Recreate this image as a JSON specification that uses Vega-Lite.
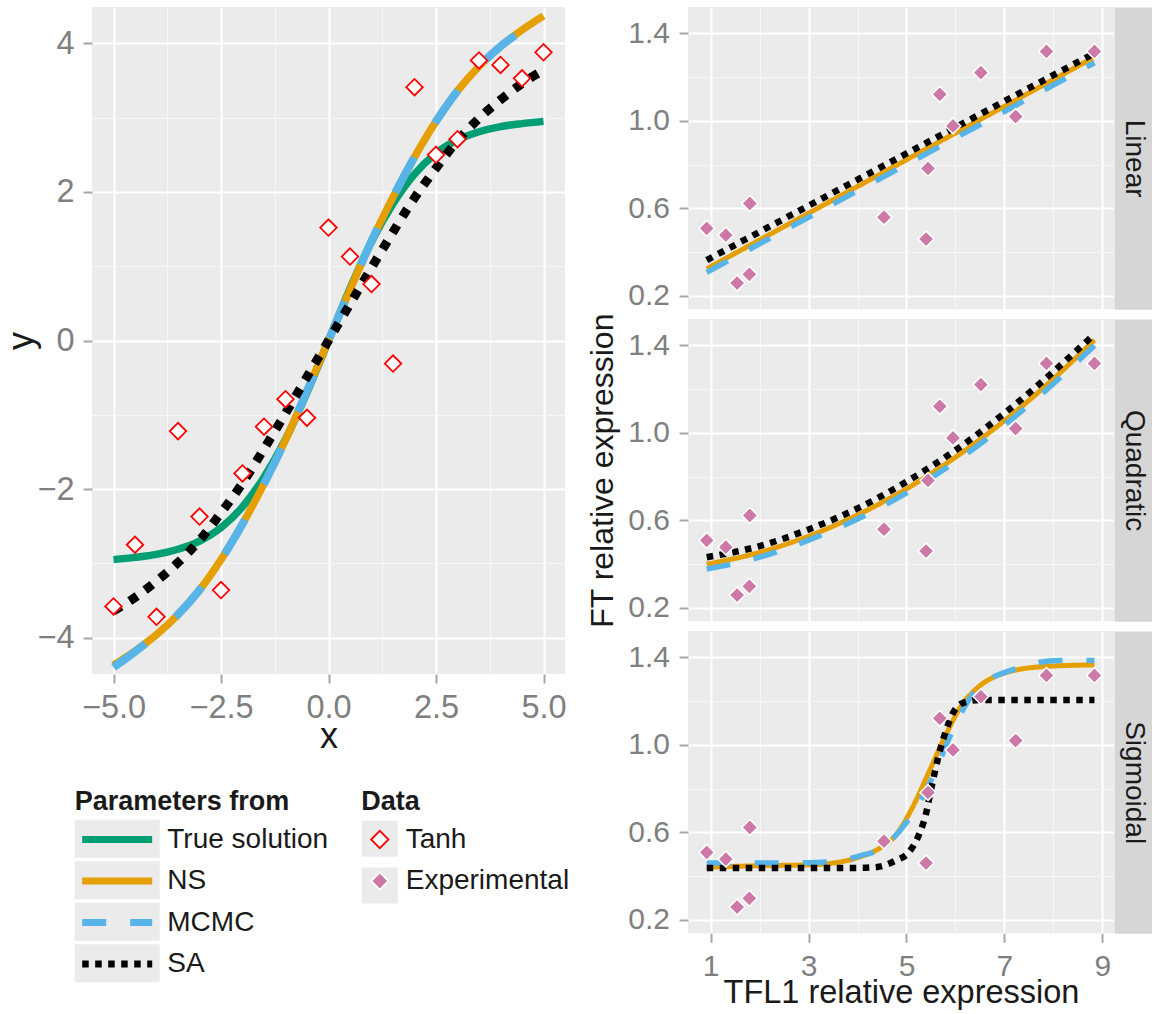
{
  "$schema": "https://vega.github.io/schema/vega-lite/v6.json",
  "padding": {"left": 3, "top": 0, "right": 5, "bottom": 4},
  "background": "#FFFFFF",
  "datasets": {
    "tanh_obs": [
      {"x": -5, "y": -3.58, "dataset": "Tanh"}, {"x": -4.5, "y": -2.75, "dataset": "Tanh"},
      {"x": -4, "y": -3.72, "dataset": "Tanh"}, {"x": -3.5, "y": -1.22, "dataset": "Tanh"},
      {"x": -3, "y": -2.37, "dataset": "Tanh"}, {"x": -2.5, "y": -3.36, "dataset": "Tanh"},
      {"x": -2, "y": -1.79, "dataset": "Tanh"}, {"x": -1.5, "y": -1.16, "dataset": "Tanh"},
      {"x": -1, "y": -0.79, "dataset": "Tanh"}, {"x": -0.5, "y": -1.04, "dataset": "Tanh"},
      {"x": 0, "y": 1.52, "dataset": "Tanh"}, {"x": 0.5, "y": 1.13, "dataset": "Tanh"},
      {"x": 1, "y": 0.76, "dataset": "Tanh"}, {"x": 1.5, "y": -0.31, "dataset": "Tanh"},
      {"x": 2, "y": 3.41, "dataset": "Tanh"}, {"x": 2.5, "y": 2.5, "dataset": "Tanh"},
      {"x": 3, "y": 2.71, "dataset": "Tanh"}, {"x": 3.5, "y": 3.77, "dataset": "Tanh"},
      {"x": 4, "y": 3.71, "dataset": "Tanh"}, {"x": 4.5, "y": 3.53, "dataset": "Tanh"},
      {"x": 5, "y": 3.88, "dataset": "Tanh"}
    ],
    "tanh_fit": [
      {"method": "True solution", "x": -5, "y": -2.95}, {"method": "True solution", "x": -4.5, "y": -2.92},
      {"method": "True solution", "x": -4, "y": -2.88}, {"method": "True solution", "x": -3.5, "y": -2.81},
      {"method": "True solution", "x": -3, "y": -2.7}, {"method": "True solution", "x": -2.5, "y": -2.52},
      {"method": "True solution", "x": -2, "y": -2.24}, {"method": "True solution", "x": -1.5, "y": -1.84},
      {"method": "True solution", "x": -1, "y": -1.33}, {"method": "True solution", "x": -0.5, "y": -0.7},
      {"method": "True solution", "x": 0, "y": 0}, {"method": "True solution", "x": 0.5, "y": 0.7},
      {"method": "True solution", "x": 1, "y": 1.33}, {"method": "True solution", "x": 1.5, "y": 1.84},
      {"method": "True solution", "x": 2, "y": 2.24}, {"method": "True solution", "x": 2.5, "y": 2.52},
      {"method": "True solution", "x": 3, "y": 2.7}, {"method": "True solution", "x": 3.5, "y": 2.81},
      {"method": "True solution", "x": 4, "y": 2.88}, {"method": "True solution", "x": 4.5, "y": 2.92},
      {"method": "True solution", "x": 5, "y": 2.95},
      {"method": "NS", "x": -5, "y": -4.37}, {"method": "NS", "x": -4.5, "y": -4.18},
      {"method": "NS", "x": -4, "y": -3.96}, {"method": "NS", "x": -3.5, "y": -3.69},
      {"method": "NS", "x": -3, "y": -3.36}, {"method": "NS", "x": -2.5, "y": -2.95},
      {"method": "NS", "x": -2, "y": -2.47}, {"method": "NS", "x": -1.5, "y": -1.93},
      {"method": "NS", "x": -1, "y": -1.34}, {"method": "NS", "x": -0.5, "y": -0.68},
      {"method": "NS", "x": 0, "y": 0}, {"method": "NS", "x": 0.5, "y": 0.68},
      {"method": "NS", "x": 1, "y": 1.34}, {"method": "NS", "x": 1.5, "y": 1.93},
      {"method": "NS", "x": 2, "y": 2.47}, {"method": "NS", "x": 2.5, "y": 2.95},
      {"method": "NS", "x": 3, "y": 3.36}, {"method": "NS", "x": 3.5, "y": 3.69},
      {"method": "NS", "x": 4, "y": 3.96}, {"method": "NS", "x": 4.5, "y": 4.18},
      {"method": "NS", "x": 5, "y": 4.37},
      {"method": "MCMC", "x": -5, "y": -4.4}, {"method": "MCMC", "x": -4.5, "y": -4.19},
      {"method": "MCMC", "x": -4, "y": -3.96}, {"method": "MCMC", "x": -3.5, "y": -3.69},
      {"method": "MCMC", "x": -3, "y": -3.36}, {"method": "MCMC", "x": -2.5, "y": -2.95},
      {"method": "MCMC", "x": -2, "y": -2.47}, {"method": "MCMC", "x": -1.5, "y": -1.93},
      {"method": "MCMC", "x": -1, "y": -1.34}, {"method": "MCMC", "x": -0.5, "y": -0.68},
      {"method": "MCMC", "x": 0, "y": 0}, {"method": "MCMC", "x": 0.5, "y": 0.68},
      {"method": "MCMC", "x": 1, "y": 1.34}, {"method": "MCMC", "x": 1.5, "y": 1.93},
      {"method": "MCMC", "x": 2, "y": 2.47}, {"method": "MCMC", "x": 2.5, "y": 2.95},
      {"method": "MCMC", "x": 3, "y": 3.36}, {"method": "MCMC", "x": 3.5, "y": 3.69},
      {"method": "MCMC", "x": 4, "y": 3.96}, {"method": "MCMC", "x": 4.5, "y": 4.17},
      {"method": "MCMC", "x": 5, "y": 4.36},
      {"method": "SA", "x": -5, "y": -3.64}, {"method": "SA", "x": -4.5, "y": -3.46},
      {"method": "SA", "x": -4, "y": -3.24}, {"method": "SA", "x": -3.5, "y": -2.99},
      {"method": "SA", "x": -3, "y": -2.69}, {"method": "SA", "x": -2.5, "y": -2.32},
      {"method": "SA", "x": -2, "y": -1.92}, {"method": "SA", "x": -1.5, "y": -1.46},
      {"method": "SA", "x": -1, "y": -0.98}, {"method": "SA", "x": -0.5, "y": -0.49},
      {"method": "SA", "x": 0, "y": 0}, {"method": "SA", "x": 0.5, "y": 0.49},
      {"method": "SA", "x": 1, "y": 0.98}, {"method": "SA", "x": 1.5, "y": 1.46},
      {"method": "SA", "x": 2, "y": 1.92}, {"method": "SA", "x": 2.5, "y": 2.32},
      {"method": "SA", "x": 3, "y": 2.69}, {"method": "SA", "x": 3.5, "y": 2.99},
      {"method": "SA", "x": 4, "y": 3.24}, {"method": "SA", "x": 4.5, "y": 3.46},
      {"method": "SA", "x": 5, "y": 3.64}
    ],
    "ft_obs": [
      {"x": 0.92, "y": 0.509, "dataset": "Experimental"}, {"x": 1.31, "y": 0.478, "dataset": "Experimental"},
      {"x": 1.54, "y": 0.259, "dataset": "Experimental"}, {"x": 1.79, "y": 0.299, "dataset": "Experimental"},
      {"x": 1.8, "y": 0.623, "dataset": "Experimental"}, {"x": 4.54, "y": 0.56, "dataset": "Experimental"},
      {"x": 5.4, "y": 0.46, "dataset": "Experimental"}, {"x": 5.44, "y": 0.783, "dataset": "Experimental"},
      {"x": 5.68, "y": 1.122, "dataset": "Experimental"}, {"x": 5.95, "y": 0.977, "dataset": "Experimental"},
      {"x": 6.52, "y": 1.221, "dataset": "Experimental"}, {"x": 7.23, "y": 1.02, "dataset": "Experimental"},
      {"x": 7.86, "y": 1.318, "dataset": "Experimental"}, {"x": 8.84, "y": 1.318, "dataset": "Experimental"}
    ],
    "ft_fit": [
      {"model": "Linear", "method": "NS", "x": 0.92, "y": 0.324}, {"model": "Linear", "method": "NS", "x": 8.84, "y": 1.292},
      {"model": "Linear", "method": "MCMC", "x": 0.92, "y": 0.308}, {"model": "Linear", "method": "MCMC", "x": 8.84, "y": 1.266},
      {"model": "Linear", "method": "SA", "x": 0.92, "y": 0.364}, {"model": "Linear", "method": "SA", "x": 8.84, "y": 1.31},
      {"model": "Quadratic", "method": "NS", "x": 0.92, "y": 0.4}, {"model": "Quadratic", "method": "NS", "x": 2, "y": 0.454},
      {"model": "Quadratic", "method": "NS", "x": 3, "y": 0.528}, {"model": "Quadratic", "method": "NS", "x": 4, "y": 0.625},
      {"model": "Quadratic", "method": "NS", "x": 5, "y": 0.745}, {"model": "Quadratic", "method": "NS", "x": 6, "y": 0.889},
      {"model": "Quadratic", "method": "NS", "x": 7, "y": 1.056}, {"model": "Quadratic", "method": "NS", "x": 8, "y": 1.247},
      {"model": "Quadratic", "method": "NS", "x": 8.84, "y": 1.425},
      {"model": "Quadratic", "method": "MCMC", "x": 0.92, "y": 0.378}, {"model": "Quadratic", "method": "MCMC", "x": 2, "y": 0.432},
      {"model": "Quadratic", "method": "MCMC", "x": 3, "y": 0.51}, {"model": "Quadratic", "method": "MCMC", "x": 4, "y": 0.607},
      {"model": "Quadratic", "method": "MCMC", "x": 5, "y": 0.726}, {"model": "Quadratic", "method": "MCMC", "x": 6, "y": 0.869},
      {"model": "Quadratic", "method": "MCMC", "x": 7, "y": 1.036}, {"model": "Quadratic", "method": "MCMC", "x": 8, "y": 1.225},
      {"model": "Quadratic", "method": "MCMC", "x": 8.84, "y": 1.4},
      {"model": "Quadratic", "method": "SA", "x": 0.92, "y": 0.432}, {"model": "Quadratic", "method": "SA", "x": 2, "y": 0.483},
      {"model": "Quadratic", "method": "SA", "x": 3, "y": 0.559}, {"model": "Quadratic", "method": "SA", "x": 4, "y": 0.655},
      {"model": "Quadratic", "method": "SA", "x": 5, "y": 0.777}, {"model": "Quadratic", "method": "SA", "x": 6, "y": 0.921},
      {"model": "Quadratic", "method": "SA", "x": 7, "y": 1.09}, {"model": "Quadratic", "method": "SA", "x": 8, "y": 1.28},
      {"model": "Quadratic", "method": "SA", "x": 8.84, "y": 1.452},
      {"model": "Sigmoidal", "method": "NS", "x": 0.92, "y": 0.441}, {"model": "Sigmoidal", "method": "NS", "x": 2, "y": 0.448},
      {"model": "Sigmoidal", "method": "NS", "x": 3, "y": 0.452}, {"model": "Sigmoidal", "method": "NS", "x": 3.5, "y": 0.46},
      {"model": "Sigmoidal", "method": "NS", "x": 4.03, "y": 0.487}, {"model": "Sigmoidal", "method": "NS", "x": 4.43, "y": 0.525},
      {"model": "Sigmoidal", "method": "NS", "x": 4.78, "y": 0.587}, {"model": "Sigmoidal", "method": "NS", "x": 5.11, "y": 0.709},
      {"model": "Sigmoidal", "method": "NS", "x": 5.46, "y": 0.877}, {"model": "Sigmoidal", "method": "NS", "x": 5.8, "y": 1.045},
      {"model": "Sigmoidal", "method": "NS", "x": 6.13, "y": 1.183}, {"model": "Sigmoidal", "method": "NS", "x": 6.48, "y": 1.267},
      {"model": "Sigmoidal", "method": "NS", "x": 6.99, "y": 1.328}, {"model": "Sigmoidal", "method": "NS", "x": 7.84, "y": 1.359},
      {"model": "Sigmoidal", "method": "NS", "x": 8.84, "y": 1.366},
      {"model": "Sigmoidal", "method": "MCMC", "x": 0.92, "y": 0.46}, {"model": "Sigmoidal", "method": "MCMC", "x": 2, "y": 0.46},
      {"model": "Sigmoidal", "method": "MCMC", "x": 3, "y": 0.462}, {"model": "Sigmoidal", "method": "MCMC", "x": 3.5, "y": 0.468},
      {"model": "Sigmoidal", "method": "MCMC", "x": 4.03, "y": 0.492}, {"model": "Sigmoidal", "method": "MCMC", "x": 4.5, "y": 0.53},
      {"model": "Sigmoidal", "method": "MCMC", "x": 4.98, "y": 0.64}, {"model": "Sigmoidal", "method": "MCMC", "x": 5.52, "y": 0.846},
      {"model": "Sigmoidal", "method": "MCMC", "x": 5.9, "y": 1.045}, {"model": "Sigmoidal", "method": "MCMC", "x": 6.27, "y": 1.206},
      {"model": "Sigmoidal", "method": "MCMC", "x": 6.7, "y": 1.3}, {"model": "Sigmoidal", "method": "MCMC", "x": 7.16, "y": 1.343},
      {"model": "Sigmoidal", "method": "MCMC", "x": 8.11, "y": 1.386}, {"model": "Sigmoidal", "method": "MCMC", "x": 8.84, "y": 1.386},
      {"model": "Sigmoidal", "method": "SA", "x": 0.92, "y": 0.437}, {"model": "Sigmoidal", "method": "SA", "x": 2, "y": 0.437},
      {"model": "Sigmoidal", "method": "SA", "x": 3, "y": 0.437}, {"model": "Sigmoidal", "method": "SA", "x": 4, "y": 0.438},
      {"model": "Sigmoidal", "method": "SA", "x": 4.4, "y": 0.442}, {"model": "Sigmoidal", "method": "SA", "x": 4.78, "y": 0.472},
      {"model": "Sigmoidal", "method": "SA", "x": 5.05, "y": 0.51}, {"model": "Sigmoidal", "method": "SA", "x": 5.25, "y": 0.587},
      {"model": "Sigmoidal", "method": "SA", "x": 5.39, "y": 0.678}, {"model": "Sigmoidal", "method": "SA", "x": 5.52, "y": 0.816},
      {"model": "Sigmoidal", "method": "SA", "x": 5.66, "y": 0.954}, {"model": "Sigmoidal", "method": "SA", "x": 5.8, "y": 1.061},
      {"model": "Sigmoidal", "method": "SA", "x": 5.93, "y": 1.137}, {"model": "Sigmoidal", "method": "SA", "x": 6.13, "y": 1.19},
      {"model": "Sigmoidal", "method": "SA", "x": 6.48, "y": 1.206}, {"model": "Sigmoidal", "method": "SA", "x": 7, "y": 1.206},
      {"model": "Sigmoidal", "method": "SA", "x": 8, "y": 1.206}, {"model": "Sigmoidal", "method": "SA", "x": 8.84, "y": 1.206}
    ]
  },
  "hconcat": [
    {
      "width": 473,
      "height": 667,
      "resolve": {"axis": {"x": "independent", "y": "independent"}},
      "layer": [
        {
          "data": {"name": "tanh_fit"},
          "transform": [{"filter": "datum.method === 'True solution'"}],
          "mark": {"type": "line", "strokeWidth": 7.5, "interpolate": "monotone", "strokeCap": "butt"},
          "encoding": {
            "x": {"field": "x", "type": "quantitative", "scale": {"domain": [-5.5, 5.5], "nice": false, "zero": false},
                  "axis": {"orient": "bottom", "values": [-3.75, -1.25, 1.25, 3.75], "grid": true, "gridWidth": 1, "gridColor": "#F7F7F7", "labels": false, "ticks": false, "domain": false, "title": null}},
            "y": {"field": "y", "type": "quantitative", "scale": {"domain": [-4.49, 4.49], "nice": false, "zero": false},
                  "axis": {"orient": "left", "values": [-3, -1, 1, 3], "grid": true, "gridWidth": 1, "gridColor": "#F7F7F7", "labels": false, "ticks": false, "domain": false, "title": null}},
            "color": {
              "field": "method", "type": "nominal",
              "scale": {"domain": ["True solution", "NS", "MCMC", "SA"], "range": ["#009E73", "#E69F00", "#56B4E9", "#000000"]},
              "legend": {
                "title": "Parameters from",
                "orient": "none", "legendX": -17.3, "legendY": 781.6, "direction": "vertical", "padding": 0, "zindex": 1,
                "titleFontSize": 27, "titleFontWeight": "bold", "titleColor": "#1A1A1A", "titlePadding": 9.9, "titleLimit": 400,
                "labelFontSize": 28, "labelColor": "#1A1A1A", "labelLimit": 400, "labelOffset": 36.1,
                "symbolType": "M-5,0H5", "symbolSize": 196, "symbolStrokeWidth": 7, "symbolOpacity": 1, "symbolOffset": 28.5,
                "rowPadding": 13.5
              }
            },
            "opacity": {
              "field": "method", "type": "nominal", "scale": {"range": [1, 1, 1, 1]},
              "legend": {
                "title": null,
                "orient": "none", "legendX": -17.3, "legendY": 812.8, "direction": "vertical", "padding": 0, "zindex": 0,
                "labelExpr": "''", "labelFontSize": 28, "labelColor": "transparent",
                "symbolType": "M-2.237,-1H2.237V1H-2.237Z", "symbolSize": 1444, "symbolFillColor": "#EBEBEB", "symbolStrokeColor": "transparent",
                "symbolStrokeWidth": 0, "symbolOffset": 23.5, "symbolOpacity": 1,
                "rowPadding": 3.5
              }
            }
          }
        },
        {
          "data": {"name": "tanh_fit"},
          "transform": [{"filter": "datum.method === 'NS'"}],
          "mark": {"type": "line", "strokeWidth": 7.5, "interpolate": "monotone", "strokeCap": "butt"},
          "encoding": {
            "x": {"field": "x", "type": "quantitative", "scale": {"domain": [-5.5, 5.5], "nice": false, "zero": false},
                  "axis": {"orient": "bottom", "values": [-5, -2.5, 0, 2.5, 5], "format": ".1f", "grid": true, "labelFontSize": 32.5, "labelPadding": 8,
                           "title": "x", "titleFontSize": 36, "titleBaseline": "alphabetic", "titleX": 236.5, "titleY": 73}},
            "y": {"field": "y", "type": "quantitative", "scale": {"domain": [-4.49, 4.49], "nice": false, "zero": false},
                  "axis": {"orient": "left", "values": [-4, -2, 0, 2, 4], "format": "d", "grid": true, "labelFontSize": 32.5, "labelPadding": 9,
                           "title": "y", "titleFontSize": 36, "titleAngle": -90, "titleBaseline": "alphabetic", "titleX": -60, "titleY": 333.5}},
            "color": {"field": "method", "type": "nominal", "scale": {"domain": ["True solution", "NS", "MCMC", "SA"], "range": ["#009E73", "#E69F00", "#56B4E9", "#000000"]}},
            "opacity": {"field": "method", "type": "nominal", "scale": {"range": [1, 1, 1, 1]}}
          }
        },
        {
          "data": {"name": "tanh_fit"},
          "transform": [{"filter": "datum.method === 'MCMC'"}],
          "mark": {"type": "line", "strokeWidth": 8, "interpolate": "monotone", "strokeCap": "butt", "strokeDash": [40, 40]},
          "encoding": {
            "x": {"field": "x", "type": "quantitative", "axis": null},
            "y": {"field": "y", "type": "quantitative", "axis": null},
            "color": {"field": "method", "type": "nominal", "scale": {"domain": ["True solution", "NS", "MCMC", "SA"], "range": ["#009E73", "#E69F00", "#56B4E9", "#000000"]}},
            "opacity": {"field": "method", "type": "nominal", "scale": {"range": [1, 1, 1, 1]}}
          }
        },
        {
          "data": {"name": "tanh_fit"},
          "transform": [{"filter": "datum.method === 'SA'"}],
          "mark": {"type": "line", "strokeWidth": 9, "interpolate": "monotone", "strokeCap": "butt", "strokeDash": [9, 10]},
          "encoding": {
            "x": {"field": "x", "type": "quantitative", "axis": null},
            "y": {"field": "y", "type": "quantitative", "axis": null},
            "color": {"field": "method", "type": "nominal", "scale": {"domain": ["True solution", "NS", "MCMC", "SA"], "range": ["#009E73", "#E69F00", "#56B4E9", "#000000"]}},
            "opacity": {"field": "method", "type": "nominal", "scale": {"range": [1, 1, 1, 1]}}
          }
        },
        {
          "data": {"name": "tanh_obs"},
          "mark": {"type": "point", "filled": true, "size": 272, "opacity": 1},
          "encoding": {
            "x": {"field": "x", "type": "quantitative", "axis": null},
            "y": {"field": "y", "type": "quantitative", "axis": null},
            "fill": {
              "field": "dataset", "type": "nominal",
              "scale": {"domain": ["Tanh", "Experimental"], "range": ["#FFFFFF", "#CC79A7"]},
              "legend": {
                "title": "Data", "orient": "none", "legendX": 269.3, "legendY": 781.6, "direction": "vertical", "padding": 0, "zindex": 1,
                "titleFontSize": 27, "titleFontWeight": "bold", "titleColor": "#1A1A1A", "titlePadding": 9.9,
                "labelFontSize": 28, "labelColor": "#1A1A1A", "labelLimit": 400, "labelOffset": 11.9,
                "symbolType": "diamond", "symbolSize": 300, "symbolStrokeWidth": 1.8, "symbolOpacity": 1, "symbolOffset": 4.5,
                "rowPadding": 13.5
              }
            },
            "stroke": {
              "field": "dataset", "type": "nominal",
              "scale": {"domain": ["Tanh", "Experimental"], "range": ["#FF0000", "#FFFFFF"]},
              "legend": {
                "title": "Data", "orient": "none", "legendX": 269.3, "legendY": 781.6, "direction": "vertical", "padding": 0, "zindex": 1,
                "titleFontSize": 27, "titleFontWeight": "bold", "titleColor": "#1A1A1A", "titlePadding": 9.9,
                "labelFontSize": 28, "labelColor": "#1A1A1A", "labelLimit": 400, "labelOffset": 11.9,
                "symbolType": "diamond", "symbolSize": 300, "symbolStrokeWidth": 1.8, "symbolOpacity": 1, "symbolOffset": 4.5,
                "rowPadding": 13.5
              }
            },
            "shape": {
              "field": "dataset", "type": "nominal",
              "scale": {"domain": ["Tanh", "Experimental"], "range": ["diamond", "diamond"]},
              "legend": {
                "title": "Data", "orient": "none", "legendX": 269.3, "legendY": 781.6, "direction": "vertical", "padding": 0, "zindex": 1,
                "titleFontSize": 27, "titleFontWeight": "bold", "titleColor": "#1A1A1A", "titlePadding": 9.9,
                "labelFontSize": 28, "labelColor": "#1A1A1A", "labelLimit": 400, "labelOffset": 11.9,
                "symbolType": "diamond", "symbolSize": 300, "symbolStrokeWidth": 1.8, "symbolOpacity": 1, "symbolOffset": 4.5,
                "rowPadding": 13.5
              }
            },
            "strokeWidth": {
              "field": "dataset", "type": "nominal", "scale": {"range": [1.5, 1.8]},
              "legend": {
                "title": null, "orient": "none", "legendX": 269.3, "legendY": 812.8, "direction": "vertical", "padding": 0, "zindex": 0,
                "labelExpr": "''", "labelFontSize": 28, "labelColor": "transparent",
                "symbolType": "square", "symbolSize": 1296, "symbolFillColor": "#EBEBEB", "symbolStrokeColor": "transparent",
                "symbolOffset": -0.5, "symbolOpacity": 1,
                "rowPadding": 3.6
              }
            }
          }
        }
      ]
    },
    {
      "spacing": 9,
      "bounds": "flush",
      "vconcat": [
        {
          "width": 426,
          "height": 302.3,
          "resolve": {"axis": {"x": "independent", "y": "independent"}},
          "layer": [
            {
              "data": {"name": "ft_fit"},
              "transform": [{"filter": "datum.model === 'Linear' && datum.method === 'NS'"}],
              "mark": {"type": "line", "strokeWidth": 5, "interpolate": "monotone", "strokeCap": "butt"},
              "encoding": {
                "x": {"field": "x", "type": "quantitative", "scale": {"domain": [0.537, 9.239], "nice": false, "zero": false},
                      "axis": {"orient": "bottom", "values": [2, 4, 6, 8], "grid": true, "gridWidth": 1, "gridColor": "#F7F7F7", "labels": false, "ticks": false, "domain": false, "title": null}},
                "y": {"field": "y", "type": "quantitative", "scale": {"domain": [0.139, 1.521], "nice": false, "zero": false},
                      "axis": {"orient": "left", "values": [0.4, 0.8, 1.2], "grid": true, "gridWidth": 1, "gridColor": "#F7F7F7", "labels": false, "ticks": false, "domain": false, "title": null}},
                "color": {"field": "method", "type": "nominal", "scale": {"domain": ["True solution", "NS", "MCMC", "SA"], "range": ["#009E73", "#E69F00", "#56B4E9", "#000000"]}},
                "strokeDash": {"field": "method", "type": "nominal", "scale": {"domain": ["True solution", "NS", "MCMC", "SA"], "range": [[1, 0], [1, 0], [24, 24], [6.5, 6.5]]}}
              }
            },
            {
              "data": {"name": "ft_fit"},
              "transform": [{"filter": "datum.model === 'Linear' && datum.method === 'MCMC'"}],
              "mark": {"type": "line", "strokeWidth": 5.5, "interpolate": "monotone", "strokeCap": "butt"},
              "encoding": {
                "x": {"field": "x", "type": "quantitative",
                      "axis": {"orient": "bottom", "values": [1, 3, 5, 7, 9], "grid": true, "labels": false, "ticks": false, "title": null}},
                "y": {"field": "y", "type": "quantitative",
                      "axis": {"orient": "left", "values": [0.2, 0.6, 1.0, 1.4], "format": ".1f", "grid": true, "labelFontSize": 30, "labelPadding": 9.5, "title": null}},
                "color": {"field": "method", "type": "nominal", "scale": {"domain": ["True solution", "NS", "MCMC", "SA"], "range": ["#009E73", "#E69F00", "#56B4E9", "#000000"]}},
                "strokeDash": {"field": "method", "type": "nominal", "scale": {"domain": ["True solution", "NS", "MCMC", "SA"], "range": [[1, 0], [1, 0], [24, 24], [6.5, 6.5]]}}
              }
            },
            {
              "data": {"name": "ft_fit"},
              "transform": [{"filter": "datum.model === 'Linear' && datum.method === 'SA'"}],
              "mark": {"type": "line", "strokeWidth": 6.5, "interpolate": "monotone", "strokeCap": "butt"},
              "encoding": {
                "x": {"field": "x", "type": "quantitative", "axis": null},
                "y": {"field": "y", "type": "quantitative",
                      "axis": {"orient": "right", "domain": true, "domainColor": "#D6D6D6", "domainWidth": 38, "offset": 19, "labels": false, "ticks": false, "grid": false,
                               "title": "Linear", "titleAngle": 90, "titleX": 0, "titleY": 151.15, "titleAlign": "center", "titleBaseline": "middle", "titleFontSize": 28}},
                "color": {"field": "method", "type": "nominal", "scale": {"domain": ["True solution", "NS", "MCMC", "SA"], "range": ["#009E73", "#E69F00", "#56B4E9", "#000000"]}},
                "strokeDash": {"field": "method", "type": "nominal", "scale": {"domain": ["True solution", "NS", "MCMC", "SA"], "range": [[1, 0], [1, 0], [24, 24], [6.5, 6.5]]}}
              }
            },
            {
              "data": {"name": "ft_obs"},
              "mark": {"type": "point", "filled": true, "size": 250, "opacity": 1},
              "encoding": {
                "x": {"field": "x", "type": "quantitative", "axis": null},
                "y": {"field": "y", "type": "quantitative", "axis": null},
                "fill": {"field": "dataset", "type": "nominal", "scale": {"domain": ["Tanh", "Experimental"], "range": ["#FFFFFF", "#CC79A7"]}},
                "stroke": {"field": "dataset", "type": "nominal", "scale": {"domain": ["Tanh", "Experimental"], "range": ["#FF0000", "#FFFFFF"]}},
                "shape": {"field": "dataset", "type": "nominal", "scale": {"domain": ["Tanh", "Experimental"], "range": ["diamond", "diamond"]}},
                "strokeWidth": {"field": "dataset", "type": "nominal", "scale": {"range": [1.5, 1.8]}}
              }
            }
          ]
        },
        {
          "width": 426,
          "height": 302.3,
          "resolve": {"axis": {"x": "independent", "y": "independent"}},
          "layer": [
            {
              "data": {"name": "ft_fit"},
              "transform": [{"filter": "datum.model === 'Quadratic' && datum.method === 'NS'"}],
              "mark": {"type": "line", "strokeWidth": 5, "interpolate": "monotone", "strokeCap": "butt"},
              "encoding": {
                "x": {"field": "x", "type": "quantitative", "scale": {"domain": [0.537, 9.239], "nice": false, "zero": false},
                      "axis": {"orient": "bottom", "values": [2, 4, 6, 8], "grid": true, "gridWidth": 1, "gridColor": "#F7F7F7", "labels": false, "ticks": false, "domain": false, "title": null}},
                "y": {"field": "y", "type": "quantitative", "scale": {"domain": [0.139, 1.521], "nice": false, "zero": false},
                      "axis": {"orient": "left", "values": [0.4, 0.8, 1.2], "grid": true, "gridWidth": 1, "gridColor": "#F7F7F7", "labels": false, "ticks": false, "domain": false, "title": null}},
                "color": {"field": "method", "type": "nominal", "scale": {"domain": ["True solution", "NS", "MCMC", "SA"], "range": ["#009E73", "#E69F00", "#56B4E9", "#000000"]}},
                "strokeDash": {"field": "method", "type": "nominal", "scale": {"domain": ["True solution", "NS", "MCMC", "SA"], "range": [[1, 0], [1, 0], [24, 24], [6.5, 6.5]]}}
              }
            },
            {
              "data": {"name": "ft_fit"},
              "transform": [{"filter": "datum.model === 'Quadratic' && datum.method === 'MCMC'"}],
              "mark": {"type": "line", "strokeWidth": 5.5, "interpolate": "monotone", "strokeCap": "butt"},
              "encoding": {
                "x": {"field": "x", "type": "quantitative",
                      "axis": {"orient": "bottom", "values": [1, 3, 5, 7, 9], "grid": true, "labels": false, "ticks": false, "title": null}},
                "y": {"field": "y", "type": "quantitative",
                      "axis": {"orient": "left", "values": [0.2, 0.6, 1.0, 1.4], "format": ".1f", "grid": true, "labelFontSize": 30, "labelPadding": 9.5,
                               "title": "FT relative expression", "titleFontSize": 32, "titleAngle": -90, "titleBaseline": "alphabetic", "titleX": -76, "titleY": 151.15}},
                "color": {"field": "method", "type": "nominal", "scale": {"domain": ["True solution", "NS", "MCMC", "SA"], "range": ["#009E73", "#E69F00", "#56B4E9", "#000000"]}},
                "strokeDash": {"field": "method", "type": "nominal", "scale": {"domain": ["True solution", "NS", "MCMC", "SA"], "range": [[1, 0], [1, 0], [24, 24], [6.5, 6.5]]}}
              }
            },
            {
              "data": {"name": "ft_fit"},
              "transform": [{"filter": "datum.model === 'Quadratic' && datum.method === 'SA'"}],
              "mark": {"type": "line", "strokeWidth": 6.5, "interpolate": "monotone", "strokeCap": "butt"},
              "encoding": {
                "x": {"field": "x", "type": "quantitative", "axis": null},
                "y": {"field": "y", "type": "quantitative",
                      "axis": {"orient": "right", "domain": true, "domainColor": "#D6D6D6", "domainWidth": 38, "offset": 19, "labels": false, "ticks": false, "grid": false,
                               "title": "Quadratic", "titleAngle": 90, "titleX": 0, "titleY": 151.15, "titleAlign": "center", "titleBaseline": "middle", "titleFontSize": 28}},
                "color": {"field": "method", "type": "nominal", "scale": {"domain": ["True solution", "NS", "MCMC", "SA"], "range": ["#009E73", "#E69F00", "#56B4E9", "#000000"]}},
                "strokeDash": {"field": "method", "type": "nominal", "scale": {"domain": ["True solution", "NS", "MCMC", "SA"], "range": [[1, 0], [1, 0], [24, 24], [6.5, 6.5]]}}
              }
            },
            {
              "data": {"name": "ft_obs"},
              "mark": {"type": "point", "filled": true, "size": 250, "opacity": 1},
              "encoding": {
                "x": {"field": "x", "type": "quantitative", "axis": null},
                "y": {"field": "y", "type": "quantitative", "axis": null},
                "fill": {"field": "dataset", "type": "nominal", "scale": {"domain": ["Tanh", "Experimental"], "range": ["#FFFFFF", "#CC79A7"]}},
                "stroke": {"field": "dataset", "type": "nominal", "scale": {"domain": ["Tanh", "Experimental"], "range": ["#FF0000", "#FFFFFF"]}},
                "shape": {"field": "dataset", "type": "nominal", "scale": {"domain": ["Tanh", "Experimental"], "range": ["diamond", "diamond"]}},
                "strokeWidth": {"field": "dataset", "type": "nominal", "scale": {"range": [1.5, 1.8]}}
              }
            }
          ]
        },
        {
          "width": 426,
          "height": 302.3,
          "resolve": {"axis": {"x": "independent", "y": "independent"}},
          "layer": [
            {
              "data": {"name": "ft_fit"},
              "transform": [{"filter": "datum.model === 'Sigmoidal' && datum.method === 'NS'"}],
              "mark": {"type": "line", "strokeWidth": 5, "interpolate": "monotone", "strokeCap": "butt"},
              "encoding": {
                "x": {"field": "x", "type": "quantitative", "scale": {"domain": [0.537, 9.239], "nice": false, "zero": false},
                      "axis": {"orient": "bottom", "values": [2, 4, 6, 8], "grid": true, "gridWidth": 1, "gridColor": "#F7F7F7", "labels": false, "ticks": false, "domain": false, "title": null}},
                "y": {"field": "y", "type": "quantitative", "scale": {"domain": [0.139, 1.521], "nice": false, "zero": false},
                      "axis": {"orient": "left", "values": [0.4, 0.8, 1.2], "grid": true, "gridWidth": 1, "gridColor": "#F7F7F7", "labels": false, "ticks": false, "domain": false, "title": null}},
                "color": {"field": "method", "type": "nominal", "scale": {"domain": ["True solution", "NS", "MCMC", "SA"], "range": ["#009E73", "#E69F00", "#56B4E9", "#000000"]}},
                "strokeDash": {"field": "method", "type": "nominal", "scale": {"domain": ["True solution", "NS", "MCMC", "SA"], "range": [[1, 0], [1, 0], [24, 24], [6.5, 6.5]]}}
              }
            },
            {
              "data": {"name": "ft_fit"},
              "transform": [{"filter": "datum.model === 'Sigmoidal' && datum.method === 'MCMC'"}],
              "mark": {"type": "line", "strokeWidth": 5.5, "interpolate": "monotone", "strokeCap": "butt"},
              "encoding": {
                "x": {"field": "x", "type": "quantitative",
                      "axis": {"orient": "bottom", "values": [1, 3, 5, 7, 9], "format": "d", "grid": true, "labelFontSize": 30, "labelPadding": 9,
                               "title": "TFL1 relative expression", "titleFontSize": 32.5, "titleBaseline": "alphabetic", "titleX": 213, "titleY": 69.3}},
                "y": {"field": "y", "type": "quantitative",
                      "axis": {"orient": "left", "values": [0.2, 0.6, 1.0, 1.4], "format": ".1f", "grid": true, "labelFontSize": 30, "labelPadding": 9.5, "title": null}},
                "color": {"field": "method", "type": "nominal", "scale": {"domain": ["True solution", "NS", "MCMC", "SA"], "range": ["#009E73", "#E69F00", "#56B4E9", "#000000"]}},
                "strokeDash": {"field": "method", "type": "nominal", "scale": {"domain": ["True solution", "NS", "MCMC", "SA"], "range": [[1, 0], [1, 0], [24, 24], [6.5, 6.5]]}}
              }
            },
            {
              "data": {"name": "ft_fit"},
              "transform": [{"filter": "datum.model === 'Sigmoidal' && datum.method === 'SA'"}],
              "mark": {"type": "line", "strokeWidth": 6.5, "interpolate": "monotone", "strokeCap": "butt"},
              "encoding": {
                "x": {"field": "x", "type": "quantitative", "axis": null},
                "y": {"field": "y", "type": "quantitative",
                      "axis": {"orient": "right", "domain": true, "domainColor": "#D6D6D6", "domainWidth": 38, "offset": 19, "labels": false, "ticks": false, "grid": false,
                               "title": "Sigmoidal", "titleAngle": 90, "titleX": 0, "titleY": 151.15, "titleAlign": "center", "titleBaseline": "middle", "titleFontSize": 28}},
                "color": {"field": "method", "type": "nominal", "scale": {"domain": ["True solution", "NS", "MCMC", "SA"], "range": ["#009E73", "#E69F00", "#56B4E9", "#000000"]}},
                "strokeDash": {"field": "method", "type": "nominal", "scale": {"domain": ["True solution", "NS", "MCMC", "SA"], "range": [[1, 0], [1, 0], [24, 24], [6.5, 6.5]]}}
              }
            },
            {
              "data": {"name": "ft_obs"},
              "mark": {"type": "point", "filled": true, "size": 250, "opacity": 1},
              "encoding": {
                "x": {"field": "x", "type": "quantitative", "axis": null},
                "y": {"field": "y", "type": "quantitative", "axis": null},
                "fill": {"field": "dataset", "type": "nominal", "scale": {"domain": ["Tanh", "Experimental"], "range": ["#FFFFFF", "#CC79A7"]}},
                "stroke": {"field": "dataset", "type": "nominal", "scale": {"domain": ["Tanh", "Experimental"], "range": ["#FF0000", "#FFFFFF"]}},
                "shape": {"field": "dataset", "type": "nominal", "scale": {"domain": ["Tanh", "Experimental"], "range": ["diamond", "diamond"]}},
                "strokeWidth": {"field": "dataset", "type": "nominal", "scale": {"range": [1.5, 1.8]}}
              }
            }
          ]
        }
      ]
    }
  ],
  "spacing": 123,
  "bounds": "flush",
  "config": {
    "font": "Liberation Sans",
    "view": {"fill": "#EBEBEB", "stroke": null},
    "axis": {
      "domain": false, "grid": true, "gridColor": "#FFFFFF", "gridWidth": 2,
      "tickColor": "#A6A6A6", "tickWidth": 2, "tickSize": 9,
      "labelColor": "#7F7F7F", "labelFont": "Liberation Sans", "labelFlush": false, "labelOverlap": false,
      "titleColor": "#1A1A1A", "titleFont": "Liberation Sans", "titleFontWeight": "normal"
    },
    "legend": {
      "labelFont": "Liberation Sans", "titleFont": "Liberation Sans",
      "symbolBaseFillColor": "#EBEBEB", "symbolBaseStrokeColor": "transparent"
    }
  }
}
